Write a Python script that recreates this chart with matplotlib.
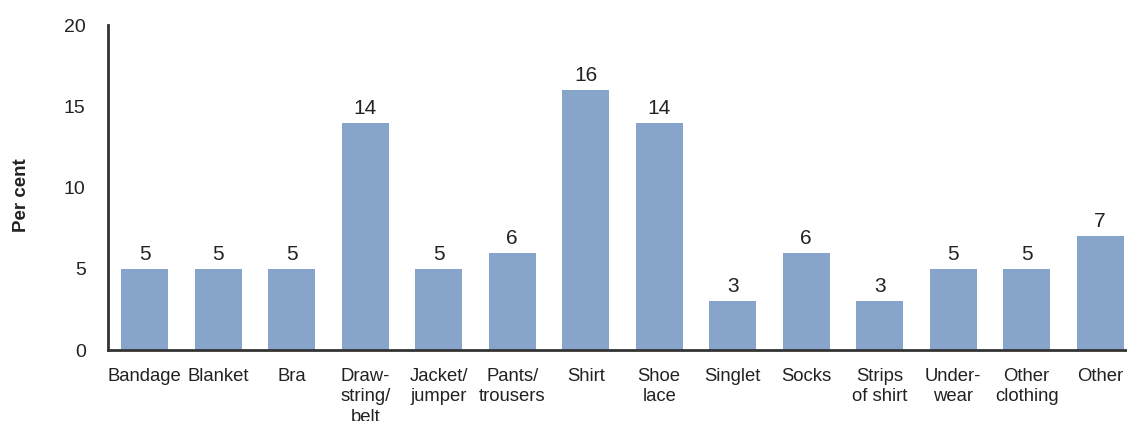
import matplotlib.pyplot as plt

plt.rcParams['font.family'] = ['Liberation Sans', 'DejaVu Sans']

categories = ["Bandage", "Blanket", "Bra", "Draw-\nstring/\nbelt", "Jacket/\njumper",
              "Pants/\ntrousers", "Shirt", "Shoe\nlace", "Singlet", "Socks",
              "Strips\nof shirt", "Under-\nwear", "Other\nclothing", "Other"]
values = [5, 5, 5, 14, 5, 6, 16, 14, 3, 6, 3, 5, 5, 7]

fig = plt.figure(figsize=(11.27, 4.21), dpi=100)
ax = fig.add_axes([0.0958, 0.1686, 0.913, 0.772])

x = range(len(categories))
bars = ax.bar(x, values, width=0.64, color="#87a5cb", zorder=2)

# value labels above each bar
for xi, v in zip(x, values):
    ax.text(xi, v + 0.3, str(v), ha="center", va="bottom", fontsize=15, color="#222222")

ax.set_xlim(-0.5, 13.5)
ax.set_ylim(0, 20)
ax.set_yticks([0, 5, 10, 15, 20])
ax.set_xticks(list(x))
ax.set_xticklabels(categories, fontsize=13.3, color="#222222", linespacing=1.25)
ax.tick_params(axis="x", length=0, pad=13)
ax.tick_params(axis="y", length=0, pad=16, labelsize=14, labelcolor="#222222")

for side in ["top", "right"]:
    ax.spines[side].set_visible(False)
for side in ["left", "bottom"]:
    ax.spines[side].set_color("#333333")
    ax.spines[side].set_linewidth(2)
    ax.spines[side].set_zorder(3)

ax.set_ylabel("Per cent", fontsize=13.5, fontweight="bold", color="#222222")
ax.yaxis.set_label_coords(-0.0758, 0.477)

fig.savefig("out.png", dpi=100)
